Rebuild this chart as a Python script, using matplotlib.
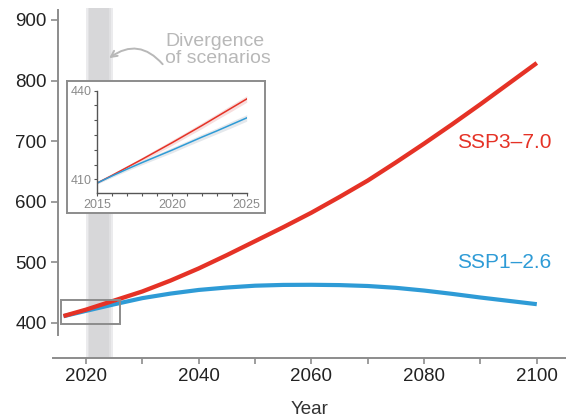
import matplotlib
matplotlib.use("Agg")
import matplotlib.pyplot as plt
from matplotlib.patches import Rectangle
from matplotlib.ticker import MultipleLocator

plt.rcParams['font.family'] = ['Liberation Sans', 'DejaVu Sans']

# ---- data ----
years = [2016, 2020, 2025, 2030, 2035, 2040, 2045, 2050, 2055, 2060,
         2065, 2070, 2075, 2080, 2085, 2090, 2095, 2100]
ssp370 = [411.4, 422, 437, 452, 470, 490, 512, 535, 558, 582,
          608, 635, 665, 696, 728, 761, 795, 829]
ssp126 = [411.2, 420, 430.8, 441, 448.5, 454.5, 458.5, 461.5, 462.8, 463,
          462.5, 461, 458, 453.5, 448, 442, 436.5, 431]

inset_years = [2015, 2016, 2017, 2018, 2019, 2020, 2021, 2022, 2023, 2024, 2025]
inset_ssp370 = [408.8, 411.4, 414.1, 416.8, 419.6, 422.4, 425.3, 428.2, 431.2, 434.2, 437.2]
inset_ssp126 = [408.8, 411.2, 413.5, 415.7, 417.8, 419.9, 422.1, 424.3, 426.4, 428.6, 430.8]
inset_spread = [0.3, 0.5, 0.6, 0.7, 0.8, 0.9, 0.9, 1.0, 1.0, 1.1, 1.1]

yticks = [400, 500, 600, 700, 800, 900]
xticks = [2020, 2040, 2060, 2080, 2100]
labels = ["SSP3\u20137.0", "SSP1\u20132.6"]

RED = '#E53226'
BLUE = '#2E9BD6'
SPINE = '#8c8c8c'

fig = plt.figure(figsize=(5.66, 4.2), dpi=100)
ax = fig.add_axes([53/566, 62/420, 513/566, 353/420])
ax.set_xlim(2014.14, 2105.18)
ax.set_ylim(342.2, 924.7)

# divergence band (soft edges)
band_top = (920 - 342.2) / (924.7 - 342.2)
ax.axvspan(2020.0, 2024.7, ymin=0, ymax=band_top, color='#ebebed', lw=0, zorder=0)
ax.axvspan(2020.3, 2024.4, ymin=0, ymax=band_top, color='#e0e0e2', lw=0, zorder=0)
ax.axvspan(2020.6, 2024.1, ymin=0, ymax=band_top, color='#d7d7d9', lw=0, zorder=0)

ax.plot(years, ssp370, color=RED, lw=3.1, solid_capstyle='butt', zorder=3)
ax.plot(years, ssp126, color=BLUE, lw=3.0, solid_capstyle='butt', zorder=2)

ax.add_patch(Rectangle((2015.5, 397.9), 10.5, 40.0, fill=False, ec=SPINE, lw=1.4, zorder=4))

ax.text(2085.8, 698, labels[0], color=RED, fontsize=15, ha='left', va='center')
ax.text(2085.8, 500, labels[1], color=BLUE, fontsize=15, ha='left', va='center')

# spines
for s in ['top', 'right']:
    ax.spines[s].set_visible(False)
ax.spines['left'].set_position(('data', 2015))
ax.spines['left'].set_bounds(380, 917)
for s in ['left', 'bottom']:
    ax.spines[s].set_color(SPINE)
    ax.spines[s].set_linewidth(1.4)

ax.set_yticks(yticks)
ax.set_xticks(xticks)
ax.xaxis.set_minor_locator(MultipleLocator(10))
ax.tick_params(axis='both', which='both', colors=SPINE, labelcolor='#222222', labelsize=13.5, width=1.2)
ax.tick_params(axis='y', length=5, pad=3)
ax.tick_params(axis='x', which='both', length=4, pad=3)
ax.set_xlabel('Year', fontsize=13.5, color='#333333', labelpad=12)

# annotation
ax.annotate('', xy=(2024.1, 837), xytext=(2033.6, 827),
            arrowprops=dict(arrowstyle='->', color='#b8b8b8', lw=1.4,
                            connectionstyle='arc3,rad=0.45', shrinkA=0, shrinkB=0,
                            mutation_scale=11))
ax.text(2034.0, 851, 'Divergence\nof scenarios', color='#b8b8b8', fontsize=14,
        ha='left', va='center', linespacing=1.0)

# inset frame
fax = fig.add_axes([67/566, (420-213)/420, 198/566, 132/420])
fax.set_xticks([]); fax.set_yticks([])
fax.set_facecolor('white')
for s in fax.spines.values():
    s.set_color(SPINE); s.set_linewidth(1.4)

iax = fig.add_axes([97.3/566, (420-193.3)/420, 149.4/566, 102.6/420])
iax.set_facecolor('none')
iax.set_xlim(2015, 2025)
iax.set_ylim(405.3, 440)
lo370 = [v - d for v, d in zip(inset_ssp370, inset_spread)]
hi370 = [v + d for v, d in zip(inset_ssp370, inset_spread)]
lo126 = [v - d for v, d in zip(inset_ssp126, inset_spread)]
hi126 = [v + d for v, d in zip(inset_ssp126, inset_spread)]
iax.fill_between(inset_years, lo370, hi370, color='#f7dede', lw=0)
iax.fill_between(inset_years, lo126, hi126, color='#e4e8ec', lw=0)
iax.plot(inset_years, inset_ssp370, color=RED, lw=1.1)
iax.plot(inset_years, inset_ssp126, color=BLUE, lw=1.1)
for s in ['top', 'right']:
    iax.spines[s].set_visible(False)
for s in ['left', 'bottom']:
    iax.spines[s].set_color('#555555'); iax.spines[s].set_linewidth(1.0)
iax.set_xticks([2015, 2020, 2025])
iax.xaxis.set_minor_locator(MultipleLocator(1))
iax.set_yticks([410, 440])
iax.yaxis.set_minor_locator(MultipleLocator(5))
iax.tick_params(which='both', length=2.5, width=0.8, colors='#555555', labelcolor='#8a8a8a', labelsize=9, pad=1.5)

fig.savefig('out.png', dpi=100)
